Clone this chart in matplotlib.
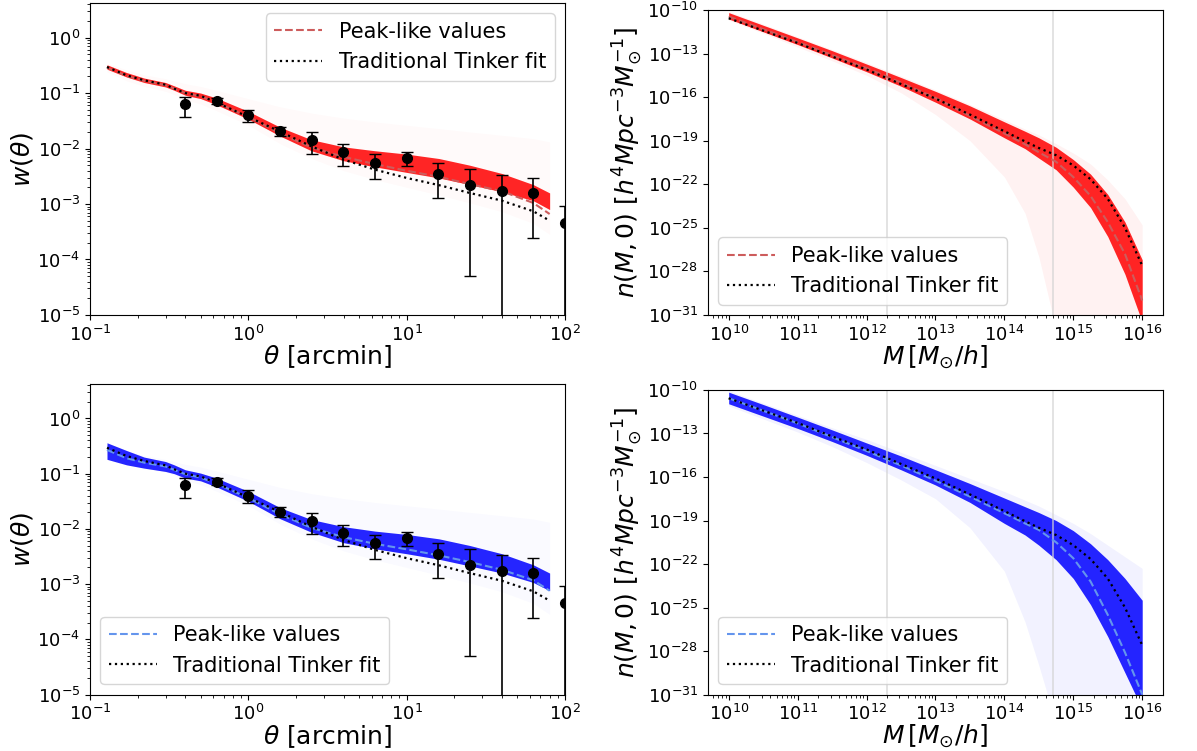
import numpy as np
import matplotlib.pyplot as plt

# observed angular correlation function (same in both rows)
theta_obs = [0.398, 0.631, 1.0, 1.585, 2.512, 3.981, 6.31, 10.0, 15.85, 25.12, 39.81, 63.1, 100.0]
w_obs = [0.063, 0.072, 0.040, 0.0205, 0.014, 0.0086, 0.0055, 0.0067, 0.0035, 0.0022, 0.0017, 0.0016, 0.00045]
w_hi = [0.085, 0.083, 0.050, 0.0246, 0.0197, 0.012, 0.0079, 0.0087, 0.0056, 0.0043, 0.0034, 0.0030, 0.00093]
w_lo = [0.037, 0.063, 0.030, 0.0167, 0.0081, 0.0049, 0.0028, 0.0049, 0.0013, 5e-5, 1e-7, 0.00024, 1e-7]

# model curves for w(theta), log10 values
theta_mod = [0.128, 0.17, 0.22, 0.3, 0.34, 0.4, 0.5, 0.63, 1.0, 1.6, 2.5, 4.0, 6.3, 10, 16, 25, 40, 63, 80]
w_tinker = [-0.53, -0.68, -0.77, -0.85, -0.92, -1.00, -1.05, -1.17, -1.43, -1.70, -1.96, -2.20, -2.38, -2.53, -2.66, -2.80, -2.94, -3.13, -3.30]

w_peak_red = [-0.54, -0.69, -0.78, -0.86, -0.92, -1.00, -1.06, -1.17, -1.43, -1.73, -1.98, -2.15, -2.28, -2.40, -2.51, -2.64, -2.77, -2.98, -3.18]
w_red_up = [-0.49, -0.63, -0.73, -0.81, -0.87, -0.95, -1.00, -1.09, -1.33, -1.62, -1.84, -1.97, -2.04, -2.10, -2.18, -2.30, -2.45, -2.65, -2.80]
w_red_lo = [-0.57, -0.71, -0.81, -0.89, -0.95, -1.04, -1.10, -1.21, -1.47, -1.78, -2.04, -2.22, -2.33, -2.43, -2.53, -2.65, -2.78, -2.94, -3.10]

w_peak_blue = [-0.57, -0.72, -0.80, -0.87, -0.93, -1.01, -1.07, -1.18, -1.44, -1.74, -1.98, -2.15, -2.27, -2.37, -2.48, -2.60, -2.74, -2.93, -3.12]
w_blue_up = [-0.44, -0.58, -0.70, -0.78, -0.84, -0.93, -0.99, -1.08, -1.32, -1.62, -1.83, -1.96, -2.04, -2.10, -2.18, -2.30, -2.45, -2.65, -2.80]
w_blue_lo = [-0.74, -0.84, -0.90, -0.96, -1.00, -1.08, -1.13, -1.24, -1.50, -1.82, -2.06, -2.25, -2.36, -2.45, -2.55, -2.67, -2.80, -2.97, -3.12]

w_faint_up = [-0.46, -0.58, -0.67, -0.74, -0.78, -0.83, -0.88, -0.95, -1.10, -1.25, -1.36, -1.45, -1.52, -1.58, -1.64, -1.70, -1.76, -1.82, -1.88]
w_faint_lo = [-0.62, -0.78, -0.88, -0.97, -1.03, -1.12, -1.20, -1.32, -1.58, -1.92, -2.18, -2.40, -2.56, -2.70, -2.84, -2.98, -3.14, -3.35, -3.55]

# halo mass function, log10 M and log10 n
logM = [10, 10.5, 11, 11.5, 12, 12.5, 13, 13.5, 14, 14.3, 14.5, 14.75, 15, 15.25, 15.5, 15.75, 16]
n_tinker = [-10.57, -11.42, -12.27, -13.2, -14.1, -15.1, -16.1, -17.2, -18.35, -19.05, -19.5, -20.0, -20.7, -21.65, -23.0, -25.0, -27.6]

n_peak_red = [-10.45, -11.32, -12.2, -13.1, -14.0, -15.0, -16.05, -17.3, -18.5, -19.25, -19.8, -20.45, -21.5, -22.8, -24.6, -26.8, -30.0]
n_red_up = [-10.18, -11.05, -11.92, -12.8, -13.72, -14.65, -15.6, -16.6, -17.7, -18.35, -18.8, -19.45, -20.3, -21.3, -22.7, -24.6, -27.2]
n_red_lo = [-10.62, -11.50, -12.38, -13.3, -14.25, -15.25, -16.35, -17.5, -18.8, -19.55, -20.2, -21.0, -22.2, -23.6, -25.6, -28.2, -31.5]
n_red_faint_up = [-10.1, -10.97, -11.84, -12.72, -13.62, -14.55, -15.5, -16.5, -17.55, -18.2, -18.6, -19.2, -19.85, -20.6, -21.7, -23.0, -24.8]
n_red_faint_lo = [-10.7, -11.6, -12.55, -13.5, -14.5, -15.7, -17.2, -19.0, -21.5, -24.0, -27.0, -32.0, -36.0, -38.0, -40.0, -42.0, -44.0]

n_peak_blue = [-10.57, -11.43, -12.3, -13.25, -14.2, -15.2, -16.25, -17.35, -18.5, -19.2, -19.65, -20.5, -21.6, -23.2, -25.5, -28.1, -31.0]
n_blue_up = [-10.15, -11.0, -11.87, -12.75, -13.65, -14.55, -15.5, -16.45, -17.45, -18.05, -18.45, -19.0, -19.7, -20.6, -21.7, -23.0, -24.5]
n_blue_lo = [-10.95, -11.8, -12.65, -13.55, -14.5, -15.5, -16.55, -17.75, -19.2, -20.0, -20.7, -21.7, -23.0, -24.8, -27.0, -29.5, -32.0]
n_blue_faint_up = [-10.05, -10.9, -11.75, -12.6, -13.4, -14.3, -15.2, -16.1, -17.0, -17.6, -18.0, -18.6, -19.2, -19.9, -20.7, -21.5, -22.3]
n_blue_faint_lo = [-11.1, -12.0, -12.9, -13.9, -15.0, -16.2, -17.5, -19.5, -22.5, -26.0, -29.0, -33.0, -36.0, -38.0, -40.0, -42.0, -44.0]

vlines_M = [2e12, 5e14]


def p10(v):
    return 10.0 ** np.array(v)


def plot_wtheta(ax, band_col, peak_col, up, lo, peak, legend_loc):
    x = np.array(theta_mod)
    ax.fill_between(x, p10(w_faint_lo), p10(w_faint_up), color=band_col, alpha=0.02, lw=0)
    ax.fill_between(x, p10(lo), p10(up), color=band_col, alpha=0.85, lw=0)
    ax.plot(x, p10(peak), '--', color=peak_col, lw=1.5, label="Peak-like values")
    ax.plot(x, p10(w_tinker), ':', color='black', lw=1.6, label="Traditional Tinker fit")
    yerr = [np.array(w_obs) - np.array(w_lo), np.array(w_hi) - np.array(w_obs)]
    ax.errorbar(theta_obs, w_obs, yerr=yerr, fmt='o', color='black', ms=7, capsize=4, elinewidth=1.2)
    ax.set_xscale('log')
    ax.set_yscale('log')
    ax.set_xlim(0.1, 100)
    ax.set_ylim(1e-5, 4.2)
    ax.set_xlabel(r"$\theta$ [arcmin]", fontsize=18, labelpad=-1)
    ax.set_ylabel(r"$w(\theta)$", fontsize=18, labelpad=2)
    ax.tick_params(labelsize=13)
    ax.legend(loc=legend_loc, fontsize=15, handlelength=2.3)


def plot_hmf(ax, band_col, peak_col, up, lo, fup, flo, peak):
    M = 10.0 ** np.array(logM)
    for v in vlines_M:
        ax.axvline(v, color='lightgrey', lw=1.3, alpha=0.7)
    ax.fill_between(M, p10(flo), p10(fup), color=band_col, alpha=0.05, lw=0)
    ax.fill_between(M, p10(lo), p10(up), color=band_col, alpha=0.85, lw=0)
    ax.plot(M, p10(peak), '--', color=peak_col, lw=1.5, label="Peak-like values")
    ax.plot(M, p10(n_tinker), ':', color='black', lw=1.6, label="Traditional Tinker fit")
    ax.set_xscale('log')
    ax.set_yscale('log')
    ax.set_xlim(10 ** 9.7, 10 ** 16.3)
    ax.set_ylim(1e-31, 1e-10)
    ax.set_yticks([10.0 ** k for k in range(-31, -9, 3)])
    ax.set_xlabel(r"$M\,[M_{\odot}/h]$", fontsize=18, labelpad=-1)
    ax.set_ylabel(r"$n(M,0)\ [h^4Mpc^{-3}M_{\odot}^{-1}]$", fontsize=18, labelpad=2)
    ax.tick_params(labelsize=13)
    ax.legend(loc='lower left', fontsize=15, handlelength=2.3)


def main():
    fig = plt.figure(figsize=(11.97, 7.51), dpi=100)
    ax_tl = fig.add_axes([0.0752, 0.5806, 0.3968, 0.4154])
    ax_tr = fig.add_axes([0.5915, 0.5806, 0.3800, 0.4061])
    ax_bl = fig.add_axes([0.0752, 0.0752, 0.3968, 0.4134])
    ax_br = fig.add_axes([0.5915, 0.0752, 0.3800, 0.4055])

    plot_wtheta(ax_tl, 'red', 'indianred', w_red_up, w_red_lo, w_peak_red, 'upper right')
    plot_wtheta(ax_bl, 'blue', 'cornflowerblue', w_blue_up, w_blue_lo, w_peak_blue, 'lower left')
    plot_hmf(ax_tr, 'red', 'indianred', n_red_up, n_red_lo, n_red_faint_up, n_red_faint_lo, n_peak_red)
    plot_hmf(ax_br, 'blue', 'cornflowerblue', n_blue_up, n_blue_lo, n_blue_faint_up, n_blue_faint_lo, n_peak_blue)

    fig.savefig("out.png", dpi=100)


if __name__ == "__main__":
    main()
